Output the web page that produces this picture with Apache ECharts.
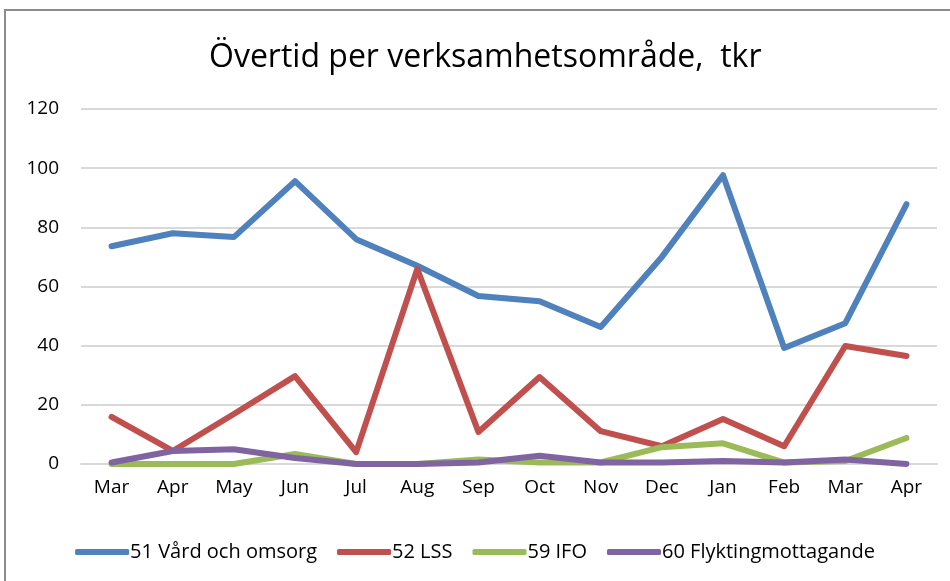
<!DOCTYPE html>
<html>
<head>
<meta charset="utf-8">
<script src="https://cdn.jsdelivr.net/npm/echarts@6/dist/echarts.min.js"></script>
<style>
  html, body { margin: 0; padding: 0; background: #fff; }
  #main { width: 950px; height: 581px; }
</style>
</head>
<body>
<div id="main"></div>
<script>
// månader
var months = ['Mar', 'Apr', 'May', 'Jun', 'Jul', 'Aug', 'Sep', 'Oct', 'Nov', 'Dec', 'Jan', 'Feb', 'Mar', 'Apr'];
// tkr per verksamhetsområde
var vard = [73.6, 78, 76.7, 95.6, 76, 67, 56.8, 55, 46.3, 70, 97.6, 39.2, 47.6, 87.8];
var lss = [15.9, 4.4, 16.9, 29.7, 4, 65.9, 10.8, 29.4, 11.1, 6, 15.2, 6, 39.9, 36.5];
var ifo = [0, 0, 0, 3.4, 0, 0, 1.5, 0.5, 0.5, 5.7, 7, 0.5, 1, 8.8];
var flykt = [0.5, 4.4, 5, 2, 0, 0, 0.5, 2.8, 0.5, 0.5, 1, 0.5, 1.5, 0];
var yTicks = [0, 20, 40, 60, 80, 100, 120];

var font = 'Open Sans';
var myChart = echarts.init(document.getElementById('main'));

function line(name, data, color) {
    return {
        name: name,
        type: 'line',
        data: data,
        symbol: 'none',
        lineStyle: { width: 6, color: color, cap: 'round', join: 'round' },
        itemStyle: { color: color }
    };
}

var option = {
    animation: false,
    title: {
        text: 'Övertid per verksamhetsområde,  tkr',
        left: 204,
        top: 37,
        textStyle: { fontFamily: font, fontSize: 32, fontWeight: 'normal', color: '#000' }
    },
    legend: {
        bottom: 14,
        left: 'center',
        icon: 'roundRect',
        itemWidth: 54,
        itemHeight: 6,
        itemGap: 20,
        textStyle: { fontFamily: font, fontSize: 20, color: '#000', padding: [0, 0, 0, -4] },
        data: ['51 Vård och omsorg', '52 LSS', '59 IFO', '60 Flyktingmottagande']
    },
    grid: { left: 81, right: 13, top: 109, bottom: 117 },
    xAxis: {
        type: 'category',
        data: months,
        boundaryGap: true,
        axisLine: { lineStyle: { color: '#d9d9d9', width: 2 } },
        axisTick: { show: false },
        axisLabel: { fontFamily: font, fontSize: 19, color: '#000', margin: 14 }
    },
    yAxis: {
        type: 'value',
        min: yTicks[0],
        max: yTicks[yTicks.length - 1],
        interval: 20,
        axisLine: { show: false },
        axisTick: { show: false },
        splitLine: { lineStyle: { color: '#d9d9d9', width: 2 } },
        axisLabel: { fontFamily: font, fontSize: 19, color: '#000', margin: 22 }
    },
    graphic: [{
        type: 'rect',
        shape: { x: 5, y: 10, width: 1000, height: 1000 },
        style: { fill: 'none', stroke: '#8c8c8c', lineWidth: 2 },
        silent: true
    }],
    series: [
        line('51 Vård och omsorg', vard, '#4f81bd'),
        line('52 LSS', lss, '#c0504d'),
        line('59 IFO', ifo, '#9bbb59'),
        line('60 Flyktingmottagande', flykt, '#8064a2')
    ]
};

myChart.setOption(option);
window.onresize = myChart.resize;
</script>
</body>
</html>
